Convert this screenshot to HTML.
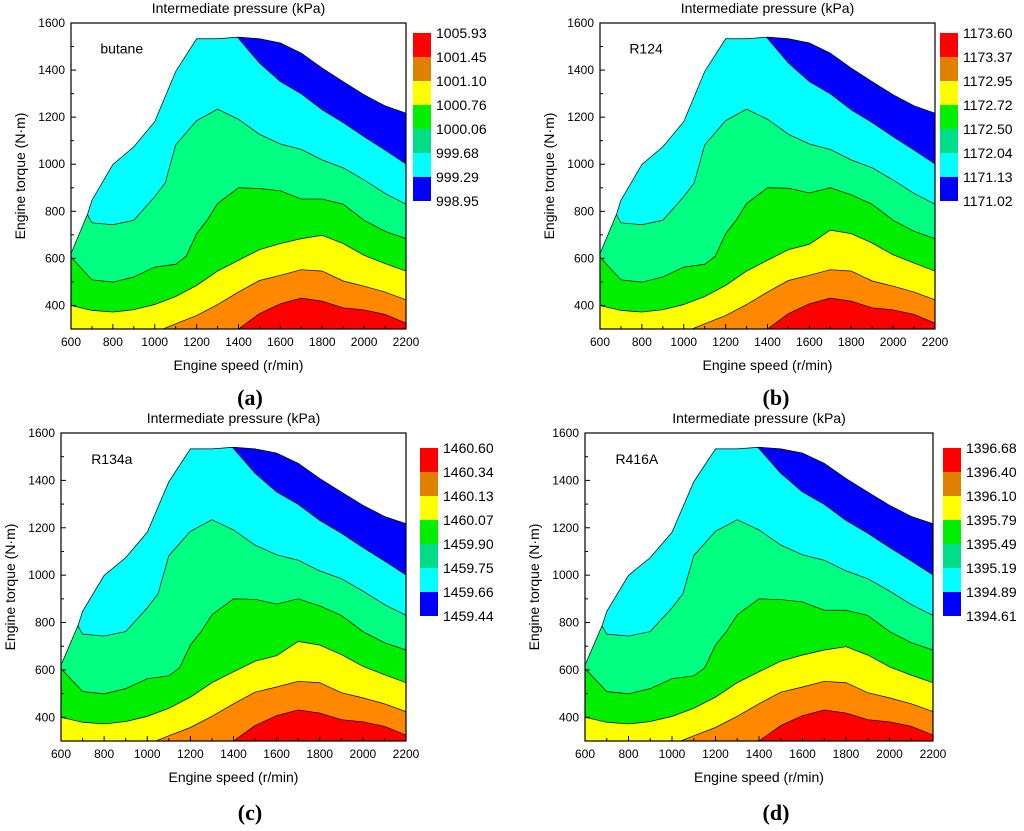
<!DOCTYPE html>
<html><head><meta charset="utf-8"><style>
body{margin:0;background:#fff;width:1024px;height:826px;overflow:hidden}
svg text{font-family:"Liberation Sans",sans-serif}
</style></head><body>
<svg id="fig" width="1024" height="826" viewBox="0 0 1024 826"></svg>
<script>
const speedTicks=[600,800,1000,1200,1400,1600,1800,2000,2200];
const torqueTicks=[400,600,800,1000,1200,1400,1600];
const envX=[600,680,700,800,900,1000,1100,1200,1300,1400,1500,1600,1700,1800,1900,2000,2100,2200];
const envY=[620,790,847,999,1074,1181,1394,1533,1533,1540,1533,1515,1472,1408,1351,1295,1248,1217];
const lineRedX=[600,1300,1400,1500,1600,1700,1800,1900,2000,2100,2200];
const lineRedY=[100,230,300,365,407,431,418,390,381,362,325];
const lineOrangeX=[600,1000,1040,1100,1200,1300,1400,1500,1600,1700,1800,1900,2000,2100,2200];
const lineOrangeY=[100,280,300,322,357,404,457,506,528,552,546,504,482,457,424];
const lineYellowX=[600,700,800,900,1000,1100,1200,1300,1400,1500,1600,1700,1800,1900,2000,2100,2200];
const lineYellowA=[400,379,372,382,404,438,485,546,592,637,663,684,698,663,613,578,546];
const lineYellowB=[400,379,372,382,404,438,485,546,592,637,660,720,705,665,615,580,546];
const lineGreenX=[600,700,800,900,1000,1100,1150,1200,1250,1300,1400,1500,1600,1700,1800,1900,2000,2100,2200];
const lineGreenA=[606,509,499,521,563,575,609,705,762,833,900,897,887,852,852,830,762,715,684];
const lineGreenB=[606,509,499,521,563,575,609,705,762,833,900,898,878,900,870,830,762,715,684];
const lineSpringX=[600,680,700,800,900,1000,1050,1100,1200,1300,1400,1500,1600,1700,1800,1900,2000,2100,2200];
const lineSpringY=[900,783,751,743,762,862,921,1082,1185,1234,1191,1127,1086,1063,1018,985,933,876,830];
const lineCyanX=[600,1380,1390,1500,1600,1700,1800,1900,2000,2100,2200];
const lineCyanY=[1700,1700,1545,1430,1351,1299,1231,1177,1117,1060,1001];
const bandColors=["#ff0000","#ff8800","#ffff00","#00ee00","#00ff80","#00ffff","#0000ff"];
const legendColors=["#ff0000","#e08000","#ffff00","#00ee00","#00dd88","#00ffff","#0000ff"];
const labelsA=["1005.93","1001.45","1001.10","1000.76","1000.06","999.68","999.29","998.95"];
const labelsB=["1173.60","1173.37","1172.95","1172.72","1172.50","1172.04","1171.13","1171.02"];
const labelsC=["1460.60","1460.34","1460.13","1460.07","1459.90","1459.75","1459.66","1459.44"];
const labelsD=["1396.68","1396.40","1396.10","1395.79","1395.49","1395.19","1394.89","1394.61"];

const NS="http://www.w3.org/2000/svg";
const svg=document.getElementById('fig');
function mk(tag,attrs,parent){const e=document.createElementNS(NS,tag);for(const k in attrs)e.setAttribute(k,attrs[k]);(parent||svg).appendChild(e);return e;}

const panels=[
 {id:'a',L:71,T:23,R:406,B:329,lx:413,ly:33,name:'butane',labels:labelsA,yl:lineYellowA,gl:lineGreenA,cap:250,capY:405},
 {id:'b',L:600,T:23,R:935,B:329,lx:940,ly:33,name:'R124',labels:labelsB,yl:lineYellowB,gl:lineGreenB,cap:776,capY:405},
 {id:'c',L:61,T:433,R:406,B:741,lx:420,ly:448,name:'R134a',labels:labelsC,yl:lineYellowB,gl:lineGreenB,cap:250,capY:820},
 {id:'d',L:585,T:433,R:933,B:741,lx:943,ly:448,name:'R416A',labels:labelsD,yl:lineYellowA,gl:lineGreenA,cap:776,capY:820}
];

panels.forEach(p=>{
 const g=mk('g',{});
 
 
 const sx=v=>p.L+(v-600)/1600*(p.R-p.L);
 const sy=v=>p.B-(v-300)/1300*(p.B-p.T);
 const clipId='clip'+p.id;
 const cp=mk('clipPath',{id:clipId},g);
 let env=envX.map((x,i)=>sx(x)+','+sy(envY[i])).join(' ');
 env+=' '+sx(2200)+','+sy(300)+' '+sx(600)+','+sy(300);
 mk('polygon',{points:env},cp);
 const cg=mk('g',{'clip-path':'url(#'+clipId+')'},g);
 const base=mk('rect',{x:p.L,y:p.T,width:p.R-p.L,height:p.B-p.T,fill:bandColors[0]},cg);
 
 
 const lines=[[lineRedX,lineRedY],[lineOrangeX,lineOrangeY],[lineYellowX,p.yl],[lineGreenX,p.gl],[lineSpringX,lineSpringY],[lineCyanX,lineCyanY]];
 lines.forEach((ln,k)=>{
  const pts=ln[0].map((x,i)=>sx(x)+','+sy(ln[1][i])).join(' ');
  const poly=mk('polygon',{points:pts+' '+sx(2200)+','+(p.T-50)+' '+sx(600)+','+(p.T-50),fill:bandColors[k+1]},cg);
  
  
 });
 lines.forEach((ln,k)=>{
  const pts=ln[0].map((x,i)=>sx(x)+','+sy(ln[1][i])).join(' ');
  const pl=mk('polyline',{points:pts,fill:'none',stroke:'#000','stroke-width':0.7},cg);
  
  
 });
 const envl=mk('polyline',{points:envX.map((x,i)=>sx(x)+','+sy(envY[i])).join(' '),fill:'none',stroke:'#000','stroke-width':0.7},g);
 
 
 const frame=mk('rect',{x:p.L,y:p.T,width:p.R-p.L,height:p.B-p.T,fill:'none',stroke:'#000','stroke-width':1.2},g);
 
 
 for(let v=600;v<=2200;v+=100){const X=sx(v);const len=v%200===0?5:3;mk('line',{x1:X,x2:X,y1:p.B,y2:p.B-len,stroke:'#000'},g);}
 for(let v=300;v<=1600;v+=100){const Y=sy(v);const len=v%200===0?5:3;mk('line',{x1:p.L,x2:p.L+len,y1:Y,y2:Y,stroke:'#000'},g);}
 speedTicks.forEach(v=>{const t=mk('text',{x:sx(v),y:p.B+17,'font-size':12,'text-anchor':'middle'},g);t.textContent=v;
  });
 torqueTicks.forEach(v=>{const t=mk('text',{x:p.L-6,y:sy(v)+4,'font-size':12,'text-anchor':'end'},g);t.textContent=v;
  });
 const xt=mk('text',{x:(p.L+p.R)/2,y:p.B+41,'font-size':14,'text-anchor':'middle'},g);xt.textContent='Engine speed (r/min)';
 
 const yx=p.L-46,yy=(p.T+p.B)/2;
 const yt=mk('text',{x:yx,y:yy,'font-size':14,'text-anchor':'middle',transform:'rotate(-90 '+yx+' '+yy+')'},g);yt.textContent='Engine torque (N·m)';
 
 const tt=mk('text',{x:(p.L+p.R)/2,y:p.T-10,'font-size':14,'text-anchor':'middle'},g);tt.textContent='Intermediate pressure (kPa)';
 
 const nm=mk('text',{x:sx(740),y:sy(1470),'font-size':14},g);nm.textContent=p.name;
 
 legendColors.forEach((c,k)=>{const r=mk('rect',{x:p.lx,y:p.ly+k*24,width:18,height:24,fill:c},g);
  });
 p.labels.forEach((l,k)=>{const t=mk('text',{x:p.lx+23,y:p.ly+k*24+5,'font-size':14},g);t.textContent=l;
  });
 const cap=mk('text',{x:p.cap,y:p.capY,'font-size':22,'font-weight':'bold','text-anchor':'middle','font-family':'Liberation Serif, serif'},g);
 cap.setAttribute('style','font-family:"Liberation Serif",serif');
 cap.textContent='('+p.id+')';
 
});
</script>
</body></html>
